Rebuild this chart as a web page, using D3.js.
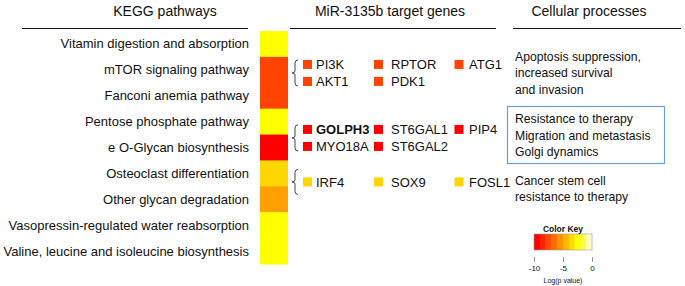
<!DOCTYPE html>
<html><head><meta charset="utf-8">
<script src="https://cdn.jsdelivr.net/npm/d3@7"></script>
<style>body{margin:0;background:#fff}svg{display:block}text{font-family:"Liberation Sans",Arial,sans-serif;fill:#111}</style>
</head><body><svg id="c" width="685" height="286"></svg>
<script>
const headers = ["KEGG pathways", "MiR-3135b target genes", "Cellular processes"];
const pathways = ["Vitamin digestion and absorption","mTOR signaling pathway","Fanconi anemia pathway","Pentose phosphate pathway","e O-Glycan biosynthesis","Osteoclast differentiation","Other glycan degradation","Vasopressin-regulated water reabsorption","Valine, leucine and isoleucine biosynthesis"];
const logP = [-2.5, -8, -8, -2.5, -10, -3.7, -5.3, -2.5, -2.5];
// gene groups: rows of gene names, position in row units, value for colour
const geneRows1 = [["PI3K","RPTOR","ATG1"],["AKT1","PDK1"]];
const geneRows2 = [["GOLPH3","ST6GAL1","PIP4"],["MYO18A","ST6GAL2"]];
const geneRows3 = [["IRF4","SOX9","FOSL1"]];
const groupCenters = [1.62, 4.13, 5.83];
const groupValues = [-8, -10, -3.7];
const boldGenes = ["GOLPH3"];
const process1 = ["Apoptosis suppression,","increased survival","and invasion"];
const process2 = ["Resistance to therapy","Migration and metastasis","Golgi dynamics"];
const process3 = ["Cancer stem cell","resistance to therapy"];
const processCenters = [1.62, 4.03, 6.1];
const keyColors = ["#FF0000","#FF2400","#FF4900","#FF6D00","#FF9200","#FFB600","#FFDB00","#FFFF00","#FFFF40","#FFFFBF"];
const keyTicks = [-10, -5, 0];

const svg = d3.select("#c");
const color = d3.scaleLinear().domain([-10, -2.5, 0]).range(["#ff0000","#ffff00","#ffffbf"]).clamp(true);

// headers
const headerX = [165, 390, 589];
const lineSpans = [[22,248],[290,496],[513,681]];
headers.forEach((h,i)=>{
  svg.append("text").attr("x",headerX[i]).attr("y",16).attr("text-anchor","middle").style("font-size","14px").text(h);
  svg.append("line").attr("x1",lineSpans[i][0]).attr("x2",lineSpans[i][1]).attr("y1",28.5).attr("y2",28.5).attr("stroke","#111").attr("stroke-width",1.2);
});

// heatmap
const y = d3.scaleBand().domain(d3.range(pathways.length)).range([31,264]);
const yRow = d3.scaleLinear().domain([0, pathways.length]).range([31,264]);
svg.selectAll("rect.cell").data(logP).join("rect").attr("class","cell")
  .attr("x",260).attr("width",28).attr("y",(d,i)=>y(i)).attr("height",y.bandwidth()+0.5)
  .attr("fill",d=>color(d));
svg.selectAll("text.pw").data(pathways).join("text").attr("class","pw")
  .attr("x",249).attr("y",(d,i)=>y(i)+y.bandwidth()/2).attr("dy","0.35em")
  .attr("text-anchor","end").style("font-size","13px").text(d=>d);

// genes
const colSquare = [303, 374, 454.5];
const colText = [316, 391, 469];
const rowGap = 17;
[geneRows1, geneRows2, geneRows3].forEach((rows,gi)=>{
  const cy = yRow(groupCenters[gi]);
  const n = rows.length;
  const top = cy - (n===1 ? 12.5 : 13), bot = cy + (n===1 ? 12.5 : 13);
  const bx = 295;
  svg.append("path").attr("fill","none").attr("stroke","#444").attr("stroke-width",1)
    .attr("d",`M${bx+3},${top} Q${bx},${top} ${bx},${top+3} L${bx},${cy-2} Q${bx},${cy} ${bx-3},${cy} Q${bx},${cy} ${bx},${cy+2} L${bx},${bot-3} Q${bx},${bot} ${bx+3},${bot}`);
  rows.forEach((row,ri)=>{
    const ry = cy + (ri - (n-1)/2) * rowGap;
    row.forEach((g,ci)=>{
      svg.append("rect").attr("x",colSquare[ci]).attr("y",ry-4.5).attr("width",9).attr("height",9).attr("fill",color(groupValues[gi]));
      svg.append("text").attr("x",colText[ci]).attr("y",ry).attr("dy","0.36em").style("font-size","13px")
        .style("font-weight",boldGenes.includes(g)?"bold":"normal").text(g);
    });
  });
});

// cellular processes
const lineH = 16.3;
[process1, process2, process3].forEach((lines,pi)=>{
  const cy = yRow(processCenters[pi]);
  lines.forEach((t,li)=>{
    svg.append("text").attr("x",515).attr("y",cy + (li-(lines.length-1)/2)*lineH).attr("dy","0.35em")
      .style("font-size","12.2px").text(t);
  });
  if (pi===1) {
    svg.append("rect").attr("x",507.5).attr("y",106.5).attr("width",157).attr("height",57)
      .attr("fill","none").attr("stroke","#6a9fd8").attr("stroke-width",1.2);
  }
});

// colour key
const kx = d3.scaleLinear().domain([-10,0]).range([534,592]);
const bw = (kx(0)-kx(-10))/keyColors.length;
svg.selectAll("rect.key").data(keyColors).join("rect").attr("class","key")
  .attr("x",(d,i)=>kx(-10)+i*bw).attr("y",234).attr("width",bw+0.3).attr("height",16).attr("fill",d=>d);
svg.append("rect").attr("x",kx(-10)).attr("y",234).attr("width",kx(0)-kx(-10)).attr("height",16)
  .attr("fill","none").attr("stroke","#999").attr("stroke-width",0.6);
svg.append("text").attr("x",(kx(-10)+kx(0))/2).attr("y",229).attr("dy","0.35em").attr("text-anchor","middle")
  .style("font-size","8.5px").style("font-weight","bold").text("Color Key");
const ax = svg.append("g").attr("transform","translate(0,257)")
  .call(d3.axisBottom(kx).tickValues(keyTicks).tickSize(5).tickPadding(3).tickFormat(d=>String(d)));
ax.select(".domain").remove();
ax.selectAll("line").attr("stroke","#555").attr("stroke-width",0.6);
ax.selectAll("text").style("font-size","8px").style("font-family","'Liberation Sans',Arial,sans-serif").attr("fill","#222");
svg.append("text").attr("x",(kx(-10)+kx(0))/2).attr("y",281).attr("dy","0.35em").attr("text-anchor","middle")
  .style("font-size","7px").text("Log(p value)");
</script></body></html>
